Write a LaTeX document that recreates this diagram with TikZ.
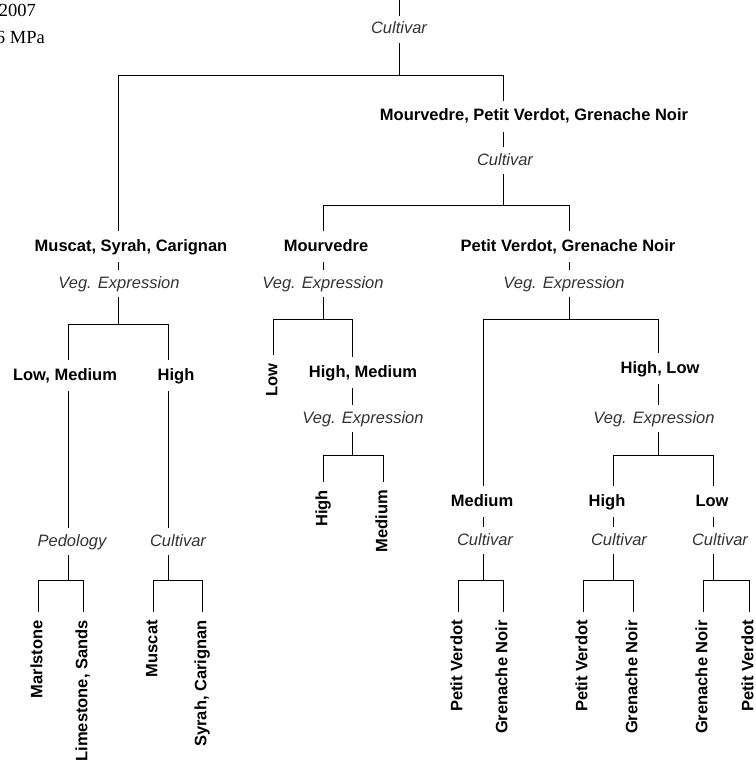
\documentclass[tikz,border=0pt]{standalone}
\usepackage{fontspec}
\setmainfont{Liberation Sans}
\newfontfamily\serifcut{Liberation Serif}
\newcommand{\tfs}{\fontsize{16.5}{19}\selectfont}
\tikzset{
  cls/.style={font=\tfs\bfseries, anchor=base, text height=11.5pt, text depth=3pt, inner xsep=2pt, inner ysep=8pt},
  splitvar/.style={font=\tfs\itshape, text=black!80, anchor=base, text height=11.5pt, text depth=3pt, inner xsep=2pt, inner ysep=6pt},
  leaf/.style={font=\tfs\bfseries, rotate=90, anchor=east, text height=11.5pt, text depth=3pt, inner xsep=8pt, inner ysep=2pt},
  branch/.style={line width=0.9pt}
}
\begin{document}
\begin{tikzpicture}[x=1pt,y=-1pt]
    \useasboundingbox (0,0) rectangle (755,765);
    \clip (0,0) rectangle (755,765);
    % cut-off header
    \node[font=\serifcut\fontsize{18.5}{22}\selectfont, anchor=base east, inner sep=0pt] (yr) at (36,17) {2007};
    \node[font=\serifcut\fontsize{18.5}{22}\selectfont, anchor=base east, inner sep=0pt] (psi) at (45,44) {6 MPa};
    % splits
    \node[splitvar] (cv0) at (399,34) {Cultivar};
    \node[cls] (mpg) at (534,121) {Mourvedre, Petit Verdot, Grenache Noir};
    \node[splitvar] (cv1) at (505,165) {Cultivar};
    \node[cls] (msc) at (131,251) {Muscat, Syrah, Carignan};
    \node[splitvar] (ve1) at (119,288) {Veg. Expression};
    \node[cls] (mou) at (326,251) {Mourvedre};
    \node[splitvar] (ve2) at (323,288) {Veg. Expression};
    \node[cls] (pgn) at (568,251) {Petit Verdot, Grenache Noir};
    \node[splitvar] (ve3) at (564,288) {Veg. Expression};
    \node[cls] (lm) at (65,380) {Low, Medium};
    \node[cls] (hi1) at (176,380) {High};
    \node[splitvar] (ped) at (72,546) {Pedology};
    \node[splitvar] (cv2) at (178,546) {Cultivar};
    \node[cls] (hm) at (363,377) {High, Medium};
    \node[splitvar] (ve4) at (363,423) {Veg. Expression};
    \node[cls] (hl) at (660,373) {High, Low};
    \node[splitvar] (ve5) at (654,423) {Veg. Expression};
    \node[cls] (med) at (482,506) {Medium};
    \node[splitvar] (cv3) at (485,545) {Cultivar};
    \node[cls] (hi2) at (607,506) {High};
    \node[splitvar] (cv4) at (619,545) {Cultivar};
    \node[cls] (lo2) at (712,506) {Low};
    \node[splitvar] (cv5) at (720,545) {Cultivar};
    % leaves
    \node[leaf] (marl) at (38,612) {Marlstone};
    \node[leaf] (lime) at (83,612) {Limestone, Sands};
    \node[leaf] (musc) at (153,612) {Muscat};
    \node[leaf] (syca) at (202,612) {Syrah, Carignan};
    \node[leaf] (lo1) at (273,355) {Low};
    \node[leaf] (hi3) at (323,482) {High};
    \node[leaf] (med2) at (383,482) {Medium};
    \node[leaf] (pv1) at (458,612) {Petit Verdot};
    \node[leaf] (gn1) at (503,612) {Grenache Noir};
    \node[leaf] (pv2) at (583,612) {Petit Verdot};
    \node[leaf] (gn2) at (633,612) {Grenache Noir};
    \node[leaf] (gn3) at (703,612) {Grenache Noir};
    \node[leaf] (pv3) at (749,612) {Petit Verdot};
    % bar corners
    \coordinate (in0) at (399,0);
    \coordinate (r1) at (118,75);  \coordinate (r2) at (503,75);
    \coordinate (b1) at (323,205); \coordinate (b2) at (569,205);
    \coordinate (a1) at (68,324);  \coordinate (a2) at (168,324);
    \coordinate (c1) at (38,580);  \coordinate (c2) at (83,580);
    \coordinate (c3) at (153,580); \coordinate (c4) at (202,580);
    \coordinate (d1) at (273,319); \coordinate (d2) at (352,319);
    \coordinate (e1) at (323,455); \coordinate (e2) at (383,455);
    \coordinate (f1) at (483,319); \coordinate (f2) at (658,319);
    \coordinate (g1) at (458,580); \coordinate (g2) at (503,580);
    \coordinate (h1) at (613,455); \coordinate (h2) at (713,455);
    \coordinate (k1) at (583,580); \coordinate (k2) at (633,580);
    \coordinate (k3) at (703,580); \coordinate (k4) at (749,580);
    % root
    \draw[branch] (in0) -- (cv0.north);
    \draw[branch] (cv0.south) -- (cv0.south |- r1);
    \draw[branch] (msc.north -| r1) -- (r1) -- (r2) -- (mpg.north -| r2);
    \draw[branch] (mpg.south -| r2) -- (cv1.north -| r2);
    \draw[branch] (cv1.south -| r2) -- (b1 -| r2);
    \draw[branch] (mou.north -| b1) -- (b1) -- (b2) -- (pgn.north -| b2);
    % Muscat, Syrah, Carignan
    \draw[branch] (msc.south -| r1) -- (ve1.north -| r1);
    \draw[branch] (ve1.south -| r1) -- (a1 -| r1);
    \draw[branch] (lm.north -| a1) -- (a1) -- (a2) -- (hi1.north -| a2);
    \draw[branch] (lm.south -| a1) -- (ped.north -| a1);
    \draw[branch] (hi1.south -| a2) -- (cv2.north -| a2);
    \draw[branch] (ped.south -| a1) -- (c1 -| a1);
    \draw[branch] (marl.east) -- (c1) -- (c2) -- (lime.east);
    \draw[branch] (cv2.south -| a2) -- (c3 -| a2);
    \draw[branch] (musc.east) -- (c3) -- (c4) -- (syca.east);
    % Mourvedre
    \draw[branch] (mou.south -| b1) -- (ve2.north -| b1);
    \draw[branch] (ve2.south -| b1) -- (d1 -| b1);
    \draw[branch] (lo1.east) -- (d1) -- (d2) -- (hm.north -| d2);
    \draw[branch] (hm.south -| d2) -- (ve4.north -| d2);
    \draw[branch] (ve4.south -| d2) -- (e1 -| d2);
    \draw[branch] (hi3.east) -- (e1) -- (e2) -- (med2.east);
    % Petit Verdot, Grenache Noir
    \draw[branch] (pgn.south -| b2) -- (ve3.north -| b2);
    \draw[branch] (ve3.south -| b2) -- (f1 -| b2);
    \draw[branch] (med.north -| f1) -- (f1) -- (f2) -- (hl.north -| f2);
    \draw[branch] (med.south -| f1) -- (cv3.north -| f1);
    \draw[branch] (cv3.south -| f1) -- (g1 -| f1);
    \draw[branch] (pv1.east) -- (g1) -- (g2) -- (gn1.east);
    \draw[branch] (hl.south -| f2) -- (ve5.north -| f2);
    \draw[branch] (ve5.south -| f2) -- (h1 -| f2);
    \draw[branch] (hi2.north -| h1) -- (h1) -- (h2) -- (lo2.north -| h2);
    \draw[branch] (hi2.south -| h1) -- (cv4.north -| h1);
    \draw[branch] (cv4.south -| h1) -- (k1 -| h1);
    \draw[branch] (pv2.east) -- (k1) -- (k2) -- (gn2.east);
    \draw[branch] (lo2.south -| h2) -- (cv5.north -| h2);
    \draw[branch] (cv5.south -| h2) -- (k3 -| h2);
    \draw[branch] (gn3.east) -- (k3) -- (k4) -- (pv3.east);
\end{tikzpicture}
\end{document}
